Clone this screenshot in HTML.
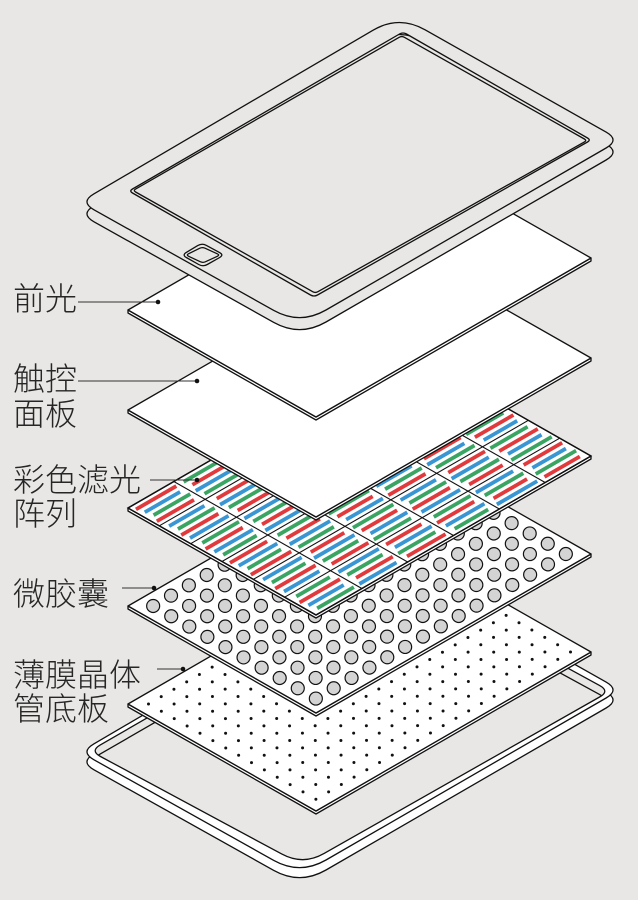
<!DOCTYPE html>
<html><head><meta charset="utf-8">
<style>
html,body{margin:0;padding:0;background:#e8e7e5;}
svg{display:block;}
text{font-family:"Liberation Sans","Noto Sans CJK SC",sans-serif;font-size:32px;fill:#262626;font-weight:300;}
</style></head>
<body>
<svg id="s" width="638" height="900" viewBox="0 0 638 900" xmlns="http://www.w3.org/2000/svg">
<rect width="638" height="900" fill="#e8e7e5"/>
<g id="g"></g>
<g id="labels">
<text x="13" y="310">前光</text>
<text x="13" y="390">触控</text>
<text x="13" y="425">面板</text>
<text x="13" y="491">彩色滤光</text>
<text x="13" y="525">阵列</text>
<text x="13" y="605">微胶囊</text>
<text x="13" y="686">薄膜晶体</text>
<text x="13" y="720">管底板</text>
</g>
</svg>
<script>
var NS="http://www.w3.org/2000/svg",G=document.getElementById("g");
function el(t,a){var e=document.createElementNS(NS,t);for(var k in a)e.setAttribute(k,a[k]);G.appendChild(e);return e;}
function rp(p,r){var s="",n=p.length;for(var i=0;i<n;i++){var rr=(typeof r=="number")?r:r[i];var a=p[(i+n-1)%n],c=p[i],b=p[(i+1)%n];
var la=Math.hypot(a[0]-c[0],a[1]-c[1]),lb=Math.hypot(b[0]-c[0],b[1]-c[1]);
var s0=[c[0]+(a[0]-c[0])*rr/la,c[1]+(a[1]-c[1])*rr/la],e0=[c[0]+(b[0]-c[0])*rr/lb,c[1]+(b[1]-c[1])*rr/lb];
s+=(i==0?"M":"L")+s0[0].toFixed(1)+","+s0[1].toFixed(1)+"Q"+c[0]+","+c[1]+" "+e0[0].toFixed(1)+","+e0[1].toFixed(1);}
return s+"Z";}
function sh(p,dx,dy){return p.map(function(q){return[q[0]+dx,q[1]+dy];});}
function inset(p,d){var cx=0,cy=0;p.forEach(function(q){cx+=q[0];cy+=q[1];});cx/=4;cy/=4;
return p.map(function(q){var vx=cx-q[0],vy=cy-q[1],l=Math.hypot(vx,vy);return[q[0]+vx*d/l,q[1]+vy*d/l];});}
var SW=1.3,BG="#e8e7e5";
var RO=[16,30,16,30];
// back rim
var rimO=[[80,752],[399,565],[620,690],[300,875]];
el("path",{d:rp(sh(rimO,0,10),RO),fill:"#fff",stroke:"#111","stroke-width":SW});
el("path",{d:rp(rimO,RO),fill:"#fff",stroke:"#111","stroke-width":SW});
var rimI=inset(rimO,10);
el("path",{d:rp(rimI,[12,24,12,24]),fill:BG,stroke:"#111","stroke-width":SW});
el("clipPath",{id:"hc"}).appendChild((function(){var e=document.createElementNS(NS,"path");e.setAttribute("d",rp(rimI,[12,24,12,24]));return e;})());
el("path",{d:rp(sh(rimI,0,9),[12,24,12,24]),fill:"none",stroke:"#111","stroke-width":SW,"clip-path":"url(#hc)"});
// sheets
var A=[275,-159],B=[188,107];
function P(d,u,v){return[128+A[0]*u+B[0]*v,310+d+A[1]*u+B[1]*v];}
function sheet(d){var L=P(d,0,0),T=P(d,1,0),R=P(d,1,1),Bm=P(d,0,1);
el("polygon",{points:[L,Bm,R,[R[0],R[1]+3],[Bm[0],Bm[1]+3],[L[0],L[1]+3]].join(" "),fill:"#fff",stroke:"#111","stroke-width":SW,"stroke-linejoin":"round"});
el("polygon",{points:[L,T,R,Bm].join(" "),fill:"#fff",stroke:"#111","stroke-width":SW,"stroke-linejoin":"round"});}
function dot(x,y){el("circle",{cx:x,cy:y,r:2.3,fill:"#111"});}
function line(x1,y1,x2,y2){el("line",{x1:x1,y1:y1,x2:x2,y2:y2,stroke:"#333","stroke-width":1});}
// TFT
var d=394;sheet(d);
for(var i=0;i<21;i++)for(var j=0;j<14;j++){var q=P(d,(i+0.8)/21.6,(j+0.8)/14.6);el("circle",{cx:q[0],cy:q[1],r:1.5,fill:"#111"});}
line(157,669,183,669);dot(183,669);
// microcapsules
d=296;sheet(d);
for(var i=0;i<15;i++)for(var j=0;j<10;j++){var q=P(d,(i+0.7)/15.4,(j+0.7)/10.4);el("circle",{cx:q[0],cy:q[1],r:6.5,fill:"#d4d4d4",stroke:"#111","stroke-width":1.2});}
line(122,588,154,588);dot(154,588);
// color filter
d=198;sheet(d);
var cols=["#e03a3c","#3a95d3","#3aa563"],nA=6,nB=6,ns=4;
for(var i=0;i<nA;i++)for(var j=0;j<nB;j++){var off=(i*2+j)%3;
 for(var s=0;s<ns;s++){var v=(j+(s+0.75)/(ns+0.5))/nB;var u0=(i+0.06+((i+j+s)%3)*0.04)/nA,u1=(i+0.94-((i*3+j+s)%2)*0.07)/nA;
  var p0=P(d,u0,v),p1=P(d,u1,v);el("line",{x1:p0[0],y1:p0[1],x2:p1[0],y2:p1[1],stroke:cols[(s+off)%3],"stroke-width":3.8});}}
for(var i=1;i<nA;i++){var p0=P(d,i/nA,0),p1=P(d,i/nA,1);el("line",{x1:p0[0],y1:p0[1],x2:p1[0],y2:p1[1],stroke:"#111","stroke-width":1.1});}
for(var j=1;j<nB;j++){var p0=P(d,0,j/nB),p1=P(d,1,j/nB);el("line",{x1:p0[0],y1:p0[1],x2:p1[0],y2:p1[1],stroke:"#111","stroke-width":1.1});}
el("polygon",{points:[P(d,0,0),P(d,1,0),P(d,1,1),P(d,0,1)].join(" "),fill:"none",stroke:"#111","stroke-width":SW});
line(150,480,197,480);dot(197,480);
// touch
d=100;sheet(d);line(78,381,197,381);dot(197,381);
// front light
d=0;sheet(d);line(78,302,158,302);dot(158,302);
// top frame
var fo=[[80,202],[399,15],[620,140],[300,325]],fi=[[129,191],[403,32],[591,140],[314,297]];
el("path",{d:rp(sh(fo,0,12),RO),fill:BG,stroke:"#111","stroke-width":SW});
el("path",{d:rp(fo,RO)+rp(fi,4),fill:BG,"fill-rule":"evenodd",stroke:"#111","stroke-width":SW});
el("path",{d:rp(inset(fi,4),3),fill:"none",stroke:"#111","stroke-width":SW});
var bt=[[182,255],[202,243],[224,255],[203,267]];
el("path",{d:rp(bt,5),fill:BG,stroke:"#111","stroke-width":SW});
el("path",{d:rp(inset(bt,4),3),fill:"none",stroke:"#111","stroke-width":SW});
</script>
</body></html>
